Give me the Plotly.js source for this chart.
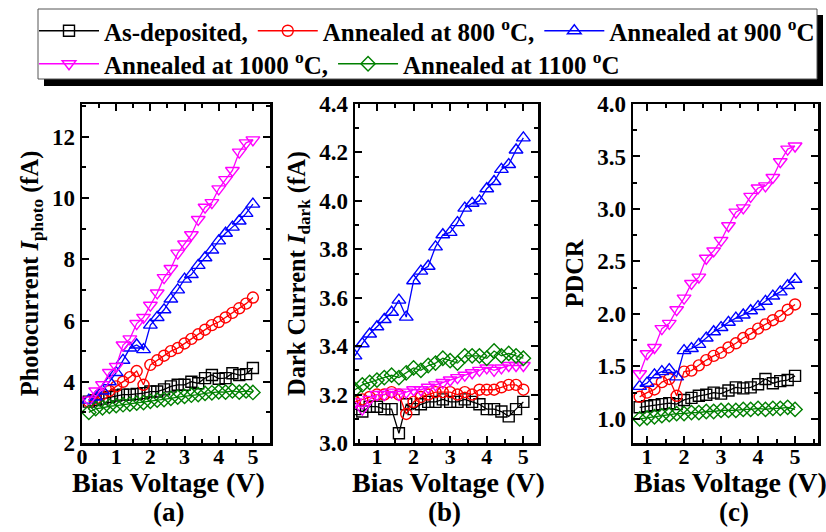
<!DOCTYPE html>
<html>
<head>
<meta charset="utf-8">
<script src="https://cdn.plot.ly/plotly-3.0.1.min.js"></script>
<style>html,body{margin:0;padding:0;background:#fff;}#chart{width:826px;height:532px;}</style>
</head>
<body>
<div id="chart"></div>
<script>
// ---- data ----
const seriesNames = ["As-deposited,", "Annealed at 800 <sup>o</sup>C,", "Annealed at 900 <sup>o</sup>C", "Annealed at 1000 <sup>o</sup>C,", "Annealed at 1100 <sup>o</sup>C"];
const xA = [0.2,0.4,0.6,0.8,1.0,1.2,1.4,1.6,1.8,2.0,2.2,2.4,2.6,2.8,3.0,3.2,3.4,3.6,3.8,4.0,4.2,4.4,4.6,4.8,5.0];
const xB = [0.4,0.6,0.8,1.0,1.2,1.4,1.6,1.8,2.0,2.2,2.4,2.6,2.8,3.0,3.2,3.4,3.6,3.8,4.0,4.2,4.4,4.6,4.8,5.0];
const xC = [0.8,1.0,1.2,1.4,1.6,1.8,2.0,2.2,2.4,2.6,2.8,3.0,3.2,3.4,3.6,3.8,4.0,4.2,4.4,4.6,4.8,5.0];

// (a) Photocurrent (fA)
const photoDep  = [3.35,3.4,3.45,3.5,3.55,3.58,3.58,3.6,3.63,3.68,3.68,3.75,3.85,3.9,3.9,4.0,3.95,4.12,4.22,4.1,4.12,4.28,4.22,4.25,4.45];
const photo800  = [3.35,3.45,3.6,3.7,3.85,4.0,4.15,4.35,3.9,4.55,4.7,4.85,5.0,5.1,5.25,5.4,5.55,5.7,5.85,5.95,6.1,6.25,6.4,6.55,6.75];
const photo900  = [3.4,3.5,3.7,4.0,4.3,4.7,5.1,5.2,5.05,5.85,6.1,6.35,6.7,7.0,7.35,7.5,7.8,8.05,8.3,8.6,8.85,9.05,9.25,9.5,9.8];
const photo1000 = [3.4,3.7,3.9,4.3,4.5,5.2,5.4,5.9,6.1,6.5,6.9,7.4,7.7,8.2,8.5,8.8,9.3,9.7,9.85,10.3,10.6,10.9,11.5,11.8,11.9];
const photo1100 = [3.0,3.12,3.15,3.2,3.22,3.25,3.27,3.3,3.32,3.36,3.4,3.42,3.46,3.5,3.52,3.56,3.58,3.62,3.64,3.67,3.66,3.7,3.66,3.7,3.65];

// (b) Dark current (fA)
const darkDep  = [3.14,3.13,3.15,3.15,3.14,3.14,3.04,3.16,3.14,3.16,3.17,3.17,3.18,3.17,3.17,3.18,3.17,3.16,3.14,3.14,3.13,3.11,3.14,3.17];
const dark800  = [3.17,3.18,3.19,3.2,3.2,3.21,3.2,3.12,3.17,3.19,3.2,3.21,3.21,3.21,3.2,3.21,3.2,3.22,3.22,3.22,3.23,3.24,3.24,3.22];
const dark900  = [3.36,3.41,3.45,3.48,3.51,3.54,3.59,3.52,3.67,3.71,3.73,3.81,3.86,3.87,3.91,3.97,3.99,4.0,4.05,4.08,4.13,4.15,4.21,4.26];
const dark1000 = [3.17,3.14,3.18,3.2,3.2,3.21,3.2,3.21,3.22,3.22,3.23,3.24,3.25,3.26,3.27,3.28,3.29,3.30,3.31,3.30,3.31,3.32,3.32,3.32];
const dark1100 = [3.22,3.24,3.25,3.26,3.27,3.28,3.27,3.29,3.31,3.30,3.32,3.33,3.35,3.34,3.33,3.36,3.36,3.36,3.35,3.38,3.36,3.37,3.36,3.35];

// (c) PDCR
const pdcrDep  = [1.11,1.12,1.13,1.14,1.15,1.14,1.18,1.2,1.22,1.23,1.25,1.24,1.27,1.3,1.29,1.3,1.33,1.38,1.34,1.36,1.37,1.41];
const pdcr800  = [1.21,1.25,1.28,1.35,1.38,1.22,1.45,1.46,1.51,1.56,1.6,1.63,1.68,1.72,1.77,1.81,1.86,1.9,1.94,1.98,2.04,2.09];
const pdcr900  = [1.31,1.34,1.42,1.45,1.47,1.40,1.65,1.67,1.71,1.77,1.83,1.87,1.92,1.96,1.99,2.03,2.07,2.12,2.17,2.21,2.27,2.33];
const pdcr1000 = [1.43,1.62,1.68,1.86,1.91,2.04,2.15,2.29,2.35,2.53,2.6,2.7,2.84,2.97,3.01,3.12,3.2,3.22,3.3,3.45,3.57,3.6];
const pdcr1100 = [1.0,1.01,1.02,1.03,1.04,1.05,1.05,1.06,1.06,1.07,1.07,1.08,1.08,1.08,1.09,1.09,1.1,1.09,1.1,1.1,1.11,1.09];

const xTitle = "Bias Voltage (V)";
const panelTags = ["(a)", "(b)", "(c)"];

// ---- styles ----
const colors  = ["#000000", "#ff0000", "#0000ff", "#ff00ff", "#008000"];
const symbols = ["square-open", "circle-open", "triangle-up-open", "triangle-down-open", "diamond-open"];
const msizes  = [11, 11, 12, 12, 11];
const legendOf = ["legend", "legend", "legend", "legend2", "legend2"];
const FONT = "Liberation Serif, Times New Roman, serif";

const panels = [
  {x: xA, ys: [photoDep, photo800, photo900, photo1000, photo1100], xa: "x",  ya: "y"},
  {x: xB, ys: [darkDep, dark800, dark900, dark1000, dark1100],       xa: "x2", ya: "y2"},
  {x: xC, ys: [pdcrDep, pdcr800, pdcr900, pdcr1000, pdcr1100],       xa: "x3", ya: "y3"}
];

const traces = [];
panels.forEach((p, pi) => {
  p.ys.forEach((y, si) => {
    traces.push({
      type: "scatter", mode: "lines+markers",
      x: p.x, y: y, xaxis: p.xa, yaxis: p.ya,
      name: seriesNames[si], legendgroup: "s" + si, showlegend: pi === 0,
      legend: legendOf[si],
      line: {color: colors[si], width: 1.3},
      marker: {symbol: symbols[si], size: msizes[si], color: colors[si], line: {color: colors[si], width: 1.4}}
    });
  });
});

const W = 826, H = 532;
const px = v => v / W;
const py = v => 1 - v / H;
const yDom = [py(443), py(104)];
function xAxis(d0, d1, range, anchor) {
  return {
    domain: [px(d0), px(d1)], range: range, anchor: anchor,
    showline: true, linecolor: "#000", linewidth: 2.5, mirror: "ticks",
    ticks: "inside", ticklen: 7, tickwidth: 2, tickcolor: "#000",
    dtick: 1, tick0: 0, showgrid: false, zeroline: false, ticklabelstandoff: -8,
    minor: {dtick: 0.5, ticks: "inside", ticklen: 4, tickwidth: 2, tickcolor: "#000", showgrid: false},
    tickfont: {family: FONT, size: 22, weight: "bold", color: "#000"}
  };
}
function yAxis(range, dtick, minor, fmt, title, anchor) {
  return {
    domain: yDom, range: range, anchor: anchor,
    showline: true, linecolor: "#000", linewidth: 2.5, mirror: "ticks",
    ticks: "inside", ticklen: 7, tickwidth: 2, tickcolor: "#000",
    dtick: dtick, tick0: 0, tickformat: fmt, showgrid: false, zeroline: false,
    minor: {dtick: minor, ticks: "inside", ticklen: 4, tickwidth: 2, tickcolor: "#000", showgrid: false},
    tickfont: {family: FONT, size: 23, weight: "bold", color: "#000"},
    title: {text: title, standoff: 7, font: {family: FONT, size: 24.5, weight: "bold", color: "#000"}}
  };
}

const annotations = [];
[168, 448, 730].forEach(cx => annotations.push({
  text: xTitle, xref: "paper", yref: "paper", x: px(cx), y: py(482),
  xanchor: "center", yanchor: "middle", showarrow: false,
  font: {family: FONT, size: 28, weight: "bold", color: "#000"}
}));
[168, 445, 734].forEach((cx, i) => annotations.push({
  text: panelTags[i], xref: "paper", yref: "paper", x: px(cx), y: py(512),
  xanchor: "center", yanchor: "middle", showarrow: false,
  font: {family: FONT, size: 27, weight: "bold", color: "#000"}
}));

const legendFont = {family: FONT, size: 25, weight: "bold", color: "#000"};
const legendBase = {
  orientation: "h", xanchor: "left", yanchor: "top",
  bgcolor: "rgba(0,0,0,0)", borderwidth: 0, itemwidth: 60, traceorder: "normal",
  font: legendFont
};

const layout = {
  width: W, height: H,
  margin: {l: 0, r: 0, t: 0, b: 0},
  paper_bgcolor: "#fff", plot_bgcolor: "#fff",
  showlegend: true,
  legend:  Object.assign({}, legendBase, {x: px(34), y: py(8)}),
  legend2: Object.assign({}, legendBase, {x: px(34), y: py(41)}),
  shapes: [
    {type: "rect", xref: "paper", yref: "paper", x0: px(44), x1: px(823), y0: py(86), y1: py(15),
     fillcolor: "#000", line: {width: 0}, layer: "above"},
    {type: "rect", xref: "paper", yref: "paper", x0: px(38), x1: px(817), y0: py(79), y1: py(9),
     fillcolor: "#fff", line: {width: 1, color: "#555"}, layer: "above"}
  ],
  annotations: annotations,
  xaxis: xAxis(82, 270, [0, 5.5], "y"),
  xaxis2: xAxis(355, 538, [0.4, 5.4], "y2"),
  xaxis3: xAxis(633, 818, [0.62, 5.62], "y3"),
  yaxis: yAxis([2, 13.07], 2, 1, "d", "Photocurrent <i>I</i><sub>photo</sub> (fA)", "x"),
  yaxis2: yAxis([3.0, 4.4], 0.2, 0.1, ".1f", "Dark Current <i>I</i><sub>dark</sub> (fA)", "x2"),
  yaxis3: yAxis([0.77, 4.0], 0.5, 0.25, ".1f", "PDCR", "x3")
};

Plotly.newPlot("chart", traces, layout, {staticPlot: true, displayModeBar: false});
</script>
</body>
</html>
